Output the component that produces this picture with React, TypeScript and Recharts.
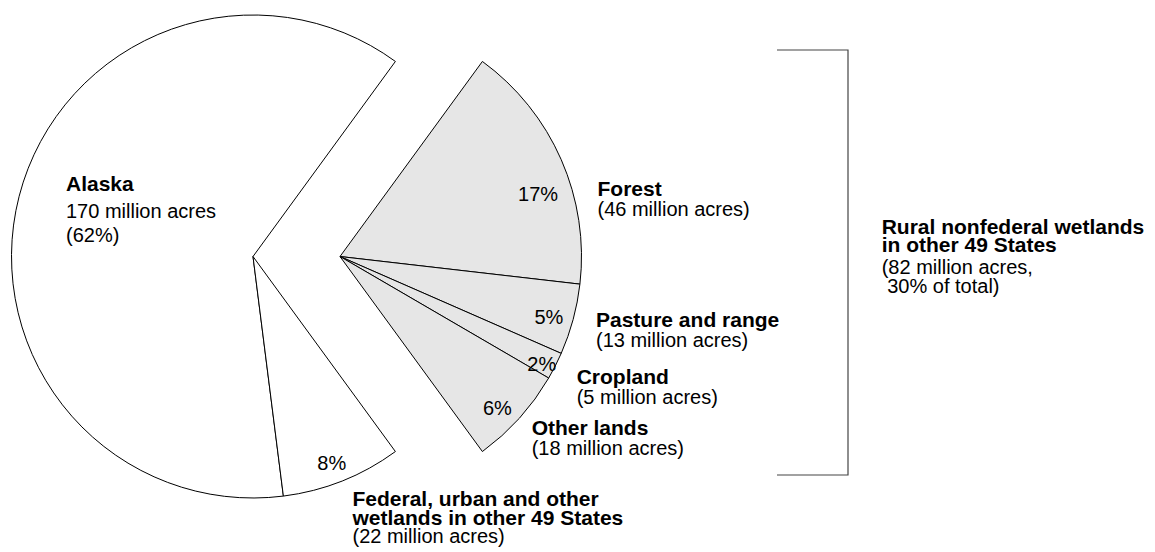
import { PieChart, Pie, Cell, Customized } from 'recharts';

// Wetland acreage, million acres
const mainNames = ['Alaska', 'Federal, urban and other wetlands in other 49 States'];
const mainTitles = [['Alaska'], ['Federal, urban and other', 'wetlands in other 49 States']];
const mainAcres = [170, 22];
const mainShares = [62, 8];

// exploded wedge: rural nonfederal wetlands in other 49 States
const ruralNames = ['Forest', 'Pasture and range', 'Cropland', 'Other lands'];
const ruralAcres = [46, 13, 5, 18];
const ruralShares = [17, 5, 2, 6];
const ruralTitle = ['Rural nonfederal wetlands', 'in other 49 States'];
const ruralShareOfTotal = 30;

const sum = (a: number[]) => a.reduce((s, v) => s + v, 0);
const ruralSum = sum(ruralAcres);
const totalAcres = sum(mainAcres) + ruralSum;
const halfSpan = (360 * ruralSum) / totalAcres / 2;

const mainData = mainNames.map((name, i) => ({ name, value: mainAcres[i] }));
const ruralData = ruralNames.map((name, i) => ({ name, value: ruralAcres[i] }));

const W = 1155;
const H = 552;
const R = 241.5;
const CY = 256.5;
const FONT = '"Liberation Sans", Arial, Helvetica, sans-serif';
const BOLD = 21;
const REG = 20;

// caption blocks, relative to the pie centre: x offset and a baseline per line
const captionPos: Record<string, { dx: number; dy: number[] }> = {
    Alaska: { dx: -187, dy: [-65.5, -38.5, -15] },
    [mainNames[1]]: { dx: 99.5, dy: [249.5, 268, 286.5] },
    Forest: { dx: 257.5, dy: [-60.5, -40.5] },
    'Pasture and range': { dx: 256, dy: [70.2, 90.2] },
    Cropland: { dx: 236.7, dy: [127.8, 147.8] },
    'Other lands': { dx: 191.7, dy: [178.5, 198.5] },
};

// small nudges of the percent labels off the mid-angle point
const pctNudge: Record<string, [number, number]> = {
    [mainNames[1]]: [-1.5, 4.5],
    Forest: [-1, 25],
    'Pasture and range': [-1, 4],
    Cropland: [8, 9.5],
    'Other lands': [-4, 6],
};

function pctPoint(p: any, name: string) {
    const rad = (p.midAngle * Math.PI) / 180;
    const r = p.outerRadius * 0.9;
    const n = pctNudge[name] ?? [0, 0];
    return {
        x: p.cx + r * Math.cos(rad) + n[0],
        y: p.cy - r * Math.sin(rad) + n[1] + 7,
    };
}

function Lines({ x, ys, lines }: { x: number; ys: number[]; lines: { t: string; bold?: boolean }[] }) {
    return (
        <g>
            {lines.map((l, i) => (
                <text
                    key={i}
                    x={x}
                    y={ys[i]}
                    fontFamily={FONT}
                    fontSize={l.bold ? BOLD : REG}
                    fontWeight={l.bold ? 'bold' : 'normal'}
                    fill="#000"
                    style={{ whiteSpace: 'pre' }}
                >
                    {l.t}
                </text>
            ))}
        </g>
    );
}

const renderMainLabel = (p: any) => {
    const i = p.index;
    const name = mainNames[i];
    const cap = captionPos[name];
    const lines =
        i === 0
            ? [
                  { t: mainTitles[0][0], bold: true },
                  { t: `${mainAcres[0]} million acres` },
                  { t: `(${mainShares[0]}%)` },
              ]
            : [
                  ...mainTitles[i].map((t) => ({ t, bold: true })),
                  { t: `(${mainAcres[i]} million acres)` },
              ];
    const pt = pctPoint(p, name);
    return (
        <g>
            {i !== 0 && (
                <text x={pt.x} y={pt.y} textAnchor="middle" fontFamily={FONT} fontSize={REG} fill="#000">
                    {mainShares[i]}%
                </text>
            )}
            <Lines x={p.cx + cap.dx} ys={cap.dy.map((d) => p.cy + d)} lines={lines} />
        </g>
    );
};

const renderRuralLabel = (p: any) => {
    const i = p.index;
    const name = ruralNames[i];
    const cap = captionPos[name];
    const pt = pctPoint(p, name);
    return (
        <g>
            <text x={pt.x} y={pt.y} textAnchor="middle" fontFamily={FONT} fontSize={REG} fill="#000">
                {ruralShares[i]}%
            </text>
            <Lines
                x={p.cx + cap.dx}
                ys={cap.dy.map((d) => p.cy + d)}
                lines={[{ t: name, bold: true }, { t: `(${ruralAcres[i]} million acres)` }]}
            />
        </g>
    );
};

// bracket and caption for the exploded wedge
const Bracket = () => {
    const bx = 848;
    const top = 50;
    const bottom = 475;
    const left = 777;
    return (
        <g>
            <polyline
                points={`${left},${top} ${bx},${top} ${bx},${bottom} ${left},${bottom}`}
                fill="none"
                stroke="#444"
                strokeWidth={1.2}
            />
            <Lines
                x={881.7}
                ys={[234, 252, 274, 293]}
                lines={[
                    { t: ruralTitle[0], bold: true },
                    { t: ruralTitle[1], bold: true },
                    { t: `(${ruralSum} million acres,` },
                    { t: ` ${ruralShareOfTotal}% of total)` },
                ]}
            />
        </g>
    );
};

export default function App() {
    return (
        <div style={{ width: W, height: H, background: '#fff' }}>
            <style>{'body{margin:0;}'}</style>
            <PieChart width={W} height={H} margin={{ top: 0, right: 0, bottom: 0, left: 0 }}>
                <Pie
                    data={mainData}
                    dataKey="value"
                    cx={253}
                    cy={CY}
                    outerRadius={R}
                    startAngle={halfSpan}
                    endAngle={360 - halfSpan}
                    stroke="#000"
                    strokeWidth={1}
                    label={renderMainLabel}
                    labelLine={false}
                    isAnimationActive={false}
                >
                    {mainData.map((d) => (
                        <Cell key={d.name} fill="#ffffff" />
                    ))}
                </Pie>
                <Pie
                    data={ruralData}
                    dataKey="value"
                    cx={340}
                    cy={CY}
                    outerRadius={R}
                    startAngle={halfSpan}
                    endAngle={-halfSpan}
                    stroke="#000"
                    strokeWidth={1}
                    label={renderRuralLabel}
                    labelLine={false}
                    isAnimationActive={false}
                >
                    {ruralData.map((d) => (
                        <Cell key={d.name} fill="#e6e6e6" />
                    ))}
                </Pie>
                <Customized component={Bracket} />
            </PieChart>
        </div>
    );
}
